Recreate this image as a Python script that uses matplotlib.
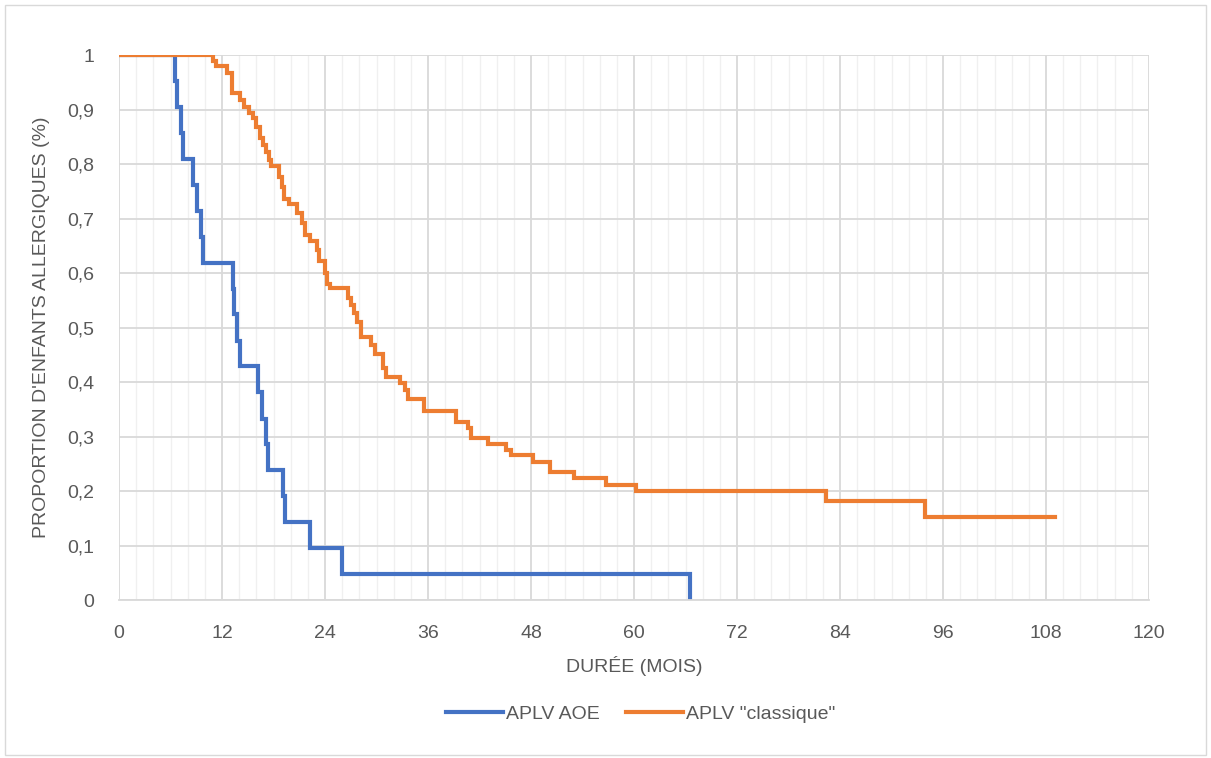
import matplotlib.pyplot as plt
from matplotlib.ticker import MultipleLocator, FuncFormatter
from matplotlib.patches import Rectangle

# Kaplan-Meier steps (time in months, survival after the drop)
aoe_t = [0, 6.5, 6.8, 7.2, 7.5, 8.6, 9.1, 9.5, 9.8, 13.3, 13.4, 13.7, 14.1,
         16.2, 16.7, 17.1, 17.4, 19.1, 19.3, 22.3, 26.0, 66.5]
aoe_s = [1, 0.952, 0.905, 0.857, 0.810, 0.762, 0.714, 0.667, 0.619, 0.571,
         0.524, 0.476, 0.429, 0.381, 0.333, 0.286, 0.238, 0.190, 0.143,
         0.095, 0.048, 0.0]

cla_t = [0, 10.95, 11.3, 12.58, 13.17, 14.1, 14.56, 15.15, 15.61, 15.96,
         16.43, 16.78, 17.13, 17.48, 17.71, 18.64, 18.99, 19.22, 19.81, 20.74,
         21.32, 21.67, 22.25, 23.07, 23.3, 24.0, 24.23, 24.58, 26.68, 27.03,
         27.38, 27.73, 28.19, 29.36, 29.83, 30.76, 31.11, 32.74, 33.32, 33.67,
         35.53, 39.26, 40.66, 41.01, 42.99, 45.09, 45.67, 48.23, 50.21, 53.01,
         56.74, 60.23, 82.37, 93.9, 109.05]
cla_s = [1, 0.989, 0.980, 0.967, 0.930, 0.917, 0.905, 0.894, 0.884, 0.868,
         0.848, 0.835, 0.822, 0.807, 0.796, 0.776, 0.758, 0.736, 0.727, 0.710,
         0.692, 0.670, 0.659, 0.642, 0.622, 0.600, 0.580, 0.572, 0.554, 0.541,
         0.527, 0.510, 0.483, 0.468, 0.451, 0.426, 0.409, 0.398, 0.385, 0.369,
         0.347, 0.327, 0.316, 0.297, 0.286, 0.275, 0.266, 0.253, 0.235, 0.224,
         0.211, 0.200, 0.182, 0.152, 0.152]

plt.rcParams['font.family'] = ['Liberation Sans Narrow', 'Liberation Sans', 'DejaVu Sans']
txt = '#595959'

fig = plt.figure(figsize=(12.11, 7.58), dpi=100)
ax = fig.add_axes([0.0983, 0.2084, 0.8505, 0.719])

ax.step(aoe_t, aoe_s, where='post', color='#4472C4', lw=3, label='APLV AOE',
        solid_joinstyle='miter')
ax.step(cla_t, cla_s, where='post', color='#ED7D31', lw=3, label='APLV "classique"',
        solid_joinstyle='miter')

ax.set_xlim(0, 120)
ax.set_ylim(0, 1)
ax.xaxis.set_major_locator(MultipleLocator(12))
ax.xaxis.set_minor_locator(MultipleLocator(2))
ax.yaxis.set_major_locator(MultipleLocator(0.1))
ax.yaxis.set_major_formatter(FuncFormatter(lambda v, p: ('%g' % round(v, 1)).replace('.', ',')))

ax.grid(which='major', axis='both', color='#d9d9d9', lw=1.3)
ax.grid(which='minor', axis='x', color='#f0f0f0', lw=1.0)
ax.set_axisbelow(True)
for s in ['top', 'right', 'left']:
    ax.spines[s].set_visible(False)
ax.spines['bottom'].set_color('#d9d9d9')
ax.spines['bottom'].set_linewidth(1.3)
ax.tick_params(axis='both', which='both', length=0, labelsize=14, labelcolor=txt)
ax.tick_params(axis='x', pad=18)
ax.tick_params(axis='y', pad=18)

ax.set_xlabel('DURÉE (MOIS)', fontsize=14, color=txt, labelpad=10)
ax.set_ylabel("PROPORTION D'ENFANTS ALLERGIQUES (%)", fontsize=14, color=txt, labelpad=12)

leg = fig.legend(loc='center', bbox_to_anchor=(0.529, 0.058), ncol=2, frameon=False,
                 fontsize=14, handlelength=2.9, columnspacing=1.4, handletextpad=0.15)
for t in leg.get_texts():
    t.set_color(txt)

fig.patches.append(Rectangle((0.004, 0.004), 0.992, 0.99, transform=fig.transFigure,
                             fill=False, edgecolor='#d9d9d9', lw=1))

fig.savefig('out.png', dpi=100)
